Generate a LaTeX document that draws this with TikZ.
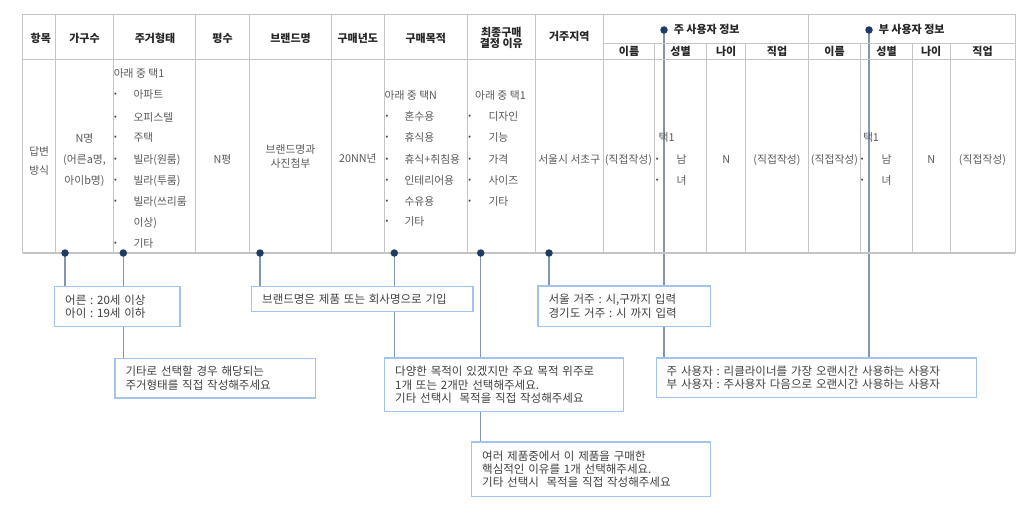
\documentclass[tikz,border=0pt]{standalone}
\usepackage{fontspec}
\setmainfont{Noto Sans CJK KR}
\usetikzlibrary{backgrounds}
\definecolor{gridc}{HTML}{C4C4C4}
\definecolor{navy}{HTML}{1F3A63}
\definecolor{conc}{HTML}{8195B5}
\definecolor{boxc}{HTML}{A3C4EA}
\definecolor{hdtext}{HTML}{262626}
\definecolor{bdtext}{HTML}{595959}
\definecolor{notetext}{HTML}{3F3F3F}
\frenchspacing
\begin{document}
\begin{tikzpicture}[x=1pt,y=-1pt,
  grid/.style={draw=gridc, line width=0.9pt},
  outer/.style={draw=gridc, line width=1.8pt},
  hd/.style={font=\fontsize{11}{12}\selectfont\bfseries, text=hdtext, inner sep=0pt, text height=.88em, text depth=.12em},
  bd/.style={font=\fontsize{10.8}{12}\selectfont, text=bdtext, inner sep=0pt, text height=.88em, text depth=.12em},
  bul/.style={font=\fontsize{8}{9}\selectfont, text=black!75, inner sep=0pt},
  note/.style={draw=boxc, line width=1.4pt, fill=white, anchor=north west, align=left,
    inner xsep=10.5pt, inner ysep=0pt, font=\fontsize{11.5}{13.3}\selectfont, text=notetext},
  con/.style={draw=conc, line width=1.2pt},
  dotm/.style={circle, fill=navy, inner sep=0pt, minimum size=7.5pt}]
\useasboundingbox (0,0) rectangle (1017,505);

% ---------- table grid ----------
\foreach \x in {55.7,113.3,195.7,249.3,331.7,384,467.7,535,603.7,808.3}
  \draw[grid] (\x,14.5) -- (\x,253);
\foreach \x in {654.3,706.7,745.7,860.7,912.3,950}
  \draw[grid] (\x,43.3) -- (\x,253);
\draw[grid] (603.7,43.3) -- (1015,43.3);
\draw[grid] (22.7,59.8) -- (1015,59.8);
\draw[grid] (22.7,14.5) -- (22.7,253);
\draw[grid] (1015,14.5) -- (1015,253);
\draw[outer] (22.7,14.5) -- (1015,14.5);
\draw[outer] (22.7,253) -- (1015,253);

% ---------- header ----------
\node[hd] (h1) at (40.8,38.3) {항목};
\node[hd] (h2) at (84.5,38.3) {가구수};
\node[hd] (h3) at (155,38.3) {주거형태};
\node[hd] (h4) at (222.5,38.3) {평수};
\node[hd] (h5) at (290.5,38.3) {브랜드명};
\node[hd] (h6) at (357.8,38.3) {구매년도};
\node[hd] (h7) at (425.8,38.3) {구매목적};
\node[hd] (h8a) at (501.3,32.7) {최종구매};
\node[hd] (h8b) at (501.3,43.8) {결정 이유};
\node[hd] (h9) at (569.3,36.5) {거주지역};
\node[hd] (hM) at (706.7,30) {주 사용자 정보};
\node[hd] (hS) at (911.7,30) {부 사용자 정보};
\node[hd] (s1) at (629,51.9) {이름};
\node[hd] (s2) at (680.5,51.9) {성별};
\node[hd] (s3) at (726.2,51.9) {나이};
\node[hd] (s4) at (777,51.9) {직업};
\node[hd] (s5) at (834.5,51.9) {이름};
\node[hd] (s6) at (886.5,51.9) {성별};
\node[hd] (s7) at (931.2,51.9) {나이};
\node[hd] (s8) at (982.5,51.9) {직업};

% ---------- body ----------
\node[bd] (b1a) at (39.2,151.7) {답변};
\node[bd] (b1b) at (39.2,170.5) {방식};
\node[bd] (b2a) at (84.5,138.3) {N명};
\node[bd] (b2b) at (84.5,159.3) {(어른a명,};
\node[bd] (b2c) at (84.5,181) {아이b명)};
\node[bd, anchor=west] (b3) at (113.6,74) {아래 중 택1};
\foreach \t/\y [count=\i] in {아파트/95, 오피스텔/117.3, 주택/137.7, 빌라(원룸)/159.3, 빌라(투룸)/181, 빌라(쓰리룸/201.7, 기타/244}
  {\node[bul] (b3u\i) at (115.5,\y) {•};
   \node[bd, anchor=west] (b3i\i) at (133.3,\y) {\t};}
\node[bd, anchor=west] (b3x) at (133.3,222.7) {이상)};
\node[bd] (b4) at (222.5,159.3) {N평};
\node[bd] (b5a) at (290.5,150.2) {브랜드명과};
\node[bd] (b5b) at (290.5,163.5) {사진첨부};
\node[bd] (b6) at (357.8,158.8) {20NN년};
\node[bd, anchor=west] (b7) at (384.4,96) {아래 중 택N};
\foreach \t/\y [count=\i] in {혼수용/116.7, 휴식용/137.7, 휴식+취침용/159.3, 인테리어용/181, 수유용/201.7, 기타/221.7}
  {\node[bul] (b7u\i) at (387,\y) {•};
   \node[bd, anchor=west] (b7i\i) at (404.3,\y) {\t};}
\node[bd, anchor=west] (b8) at (475,96) {아래 중 택1};
\foreach \t/\y [count=\i] in {디자인/116.7, 기능/137.7, 가격/159.3, 사이즈/181, 기타/201.7}
  {\node[bul] (b8u\i) at (469.8,\y) {•};
   \node[bd, anchor=west] (b8i\i) at (488.3,\y) {\t};}
\node[bd] (b9) at (569.3,159.3) {서울시 서초구};
\node[bd] (m1) at (628.5,159.3) {(직접작성)};
\node[bd, anchor=west] (m2) at (658.5,137.7) {택1};
\node[bul] (m2u1) at (657.3,159.3) {•};
\node[bul] (m2u2) at (657.3,181) {•};
\node[bd] (m2a) at (681.5,159.3) {남};
\node[bd] (m2b) at (681.5,181) {녀};
\node[bd] (m3) at (726.2,159.3) {N};
\node[bd] (m4) at (777,159.3) {(직접작성)};
\node[bd] (p1) at (834.5,159.3) {(직접작성)};
\node[bd, anchor=west] (p2) at (862.8,137.7) {택1};
\node[bul] (p2u1) at (862.3,159.3) {•};
\node[bul] (p2u2) at (862.3,181) {•};
\node[bd] (p2a) at (886.5,159.3) {남};
\node[bd] (p2b) at (886.5,181) {녀};
\node[bd] (p3) at (931.2,159.3) {N};
\node[bd] (p4) at (982.5,159.3) {(직접작성)};

% ---------- note boxes ----------
\node[note, text width=104.3pt, minimum height=40pt] (nA) at (54,285.7)
  {어른 : 20세 이상\\아이 : 19세 이하};
\node[note, text width=179.4pt, minimum height=39.6pt] (nB) at (114.3,357.7)
  {기타로 선택할 경우 해당되는\\주거형태를 직접 작성해주세요};
\node[note, text width=200.3pt, minimum height=25pt] (nC) at (251,285.7)
  {브랜드명은 제품 또는 회사명으로 기입};
\node[note, text width=218pt, minimum height=53.4pt] (nD) at (384,357.3)
  {다양한 목적이 있겠지만 주요 목적 위주로\\1개 또는 2개만 선택해주세요.\\기타 선택시 \ 목적을 직접 작성해주세요};
\node[note, text width=218pt, minimum height=54.7pt] (nE) at (471,441.3)
  {여러 제품중에서 이 제품을 구매한\\핵심적인 이유를 1개 선택해주세요.\\기타 선택시 \ 목적을 직접 작성해주세요};
\node[note, text width=151.6pt, minimum height=40.4pt] (nF) at (537.4,285.3)
  {서울 거주 : 시,구까지 입력\\경기도 거주 : 시 까지 입력};
\node[note, text width=299.3pt, minimum height=39.4pt] (nG) at (655.5,357.3)
  {주 사용자 : 리클라이너를 가장 오랜시간 사용하는 사용자\\부 사용자 : 주사용자 다음으로 오랜시간 사용하는 사용자};

% ---------- dots ----------
\node[dotm] (d1) at (65,253) {};
\node[dotm] (d2) at (123.3,253) {};
\node[dotm] (d3) at (260,253) {};
\node[dotm] (d4) at (394.3,253) {};
\node[dotm] (d5) at (480.7,253) {};
\node[dotm] (d6) at (549,253) {};
\node[dotm] (dM) at (664,30) {};
\node[dotm] (dS) at (869,30) {};

% ---------- connectors (behind boxes and dots) ----------
\begin{pgfonlayer}{background}
\draw[con] (d1.center) -- (d1.center |- nA.north);
\draw[con] (d2.center) -- (d2.center |- nB.north);
\draw[con] (d3.center) -- (d3.center |- nC.north);
\draw[con] (d4.center) -- (d4.center |- nD.north);
\draw[con] (d5.center) -- (d5.center |- nE.north);
\draw[con] (d6.center) -- (d6.center |- nF.north);
\draw[con] (dM.center) -- (dM.center |- nG.north);
\draw[con] (dS.center) -- (dS.center |- nG.north);
\end{pgfonlayer}
\end{tikzpicture}
\end{document}
